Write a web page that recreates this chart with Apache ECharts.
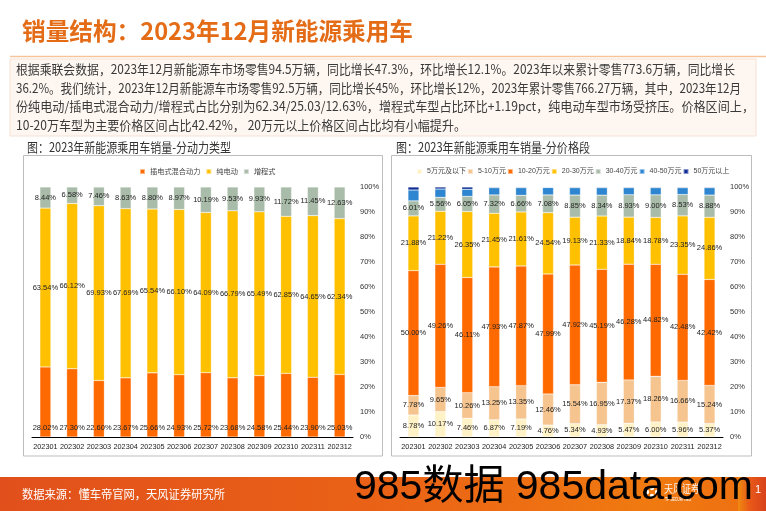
<!DOCTYPE html>
<html><head><meta charset="utf-8">
<script src="https://cdn.jsdelivr.net/npm/echarts@6/dist/echarts.min.js"></script>
<style>html,body{margin:0;padding:0;background:#fff}#c{width:766px;height:511px}</style>
</head><body><div id="c"></div>
<script>
// ---------- data ----------
const months = ['202301','202302','202303','202304','202305','202306','202307','202308','202309','202310','202311','202312'];
// 分动力类型 (%)
const phev = [28.02,27.30,22.60,23.67,25.66,24.93,25.72,23.68,24.58,25.44,23.90,25.03];
const bev  = [63.54,66.12,69.93,67.69,65.54,66.10,64.09,66.79,65.49,62.85,64.65,62.34];
const erev = [8.44,6.58,7.46,8.63,8.80,8.97,10.19,9.53,9.93,11.72,11.45,12.63];
const powerNames = ['插电式混合动力','纯电动','增程式'];
// 分价格段 (%)
const pLt5   = [8.78,10.17,7.46,6.87,7.19,4.76,5.34,4.93,5.47,6.00,5.96,5.37];
const p5_10  = [7.78,9.65,10.26,13.25,13.35,12.46,15.54,16.95,17.37,18.26,16.66,15.24];
const p10_20 = [50.00,49.26,46.11,47.93,47.87,47.99,47.92,45.19,46.28,44.82,42.48,42.42];
const p20_30 = [21.88,21.22,26.35,21.45,21.61,24.54,19.13,21.33,18.84,18.78,23.35,24.86];
const p30_40 = [6.01,5.56,6.05,7.32,6.66,7.08,8.85,8.34,8.93,9.00,8.53,8.88];
const p40_50 = [4.35,3.34,2.87,2.88,3.02,2.97,2.92,2.96,2.81,2.84,2.72,2.93];
const pGt50  = [1.20,0.80,0.90,0.30,0.30,0.20,0.30,0.30,0.30,0.30,0.30,0.30];
const priceNames = ['5万元及以下','5-10万元','10-20万元','20-30万元','30-40万元','40-50万元','50万元以上'];
const yTicks = {min:0, max:100, interval:10};

// ---------- texts ----------
const titleText = '销量结构：2023年12月新能源乘用车';
const bodyLines = [
 '根据乘联会数据，2023年12月新能源车市场零售94.5万辆，同比增长47.3%，环比增长12.1%。2023年以来累计零售773.6万辆，同比增长',
 '36.2%。我们统计，2023年12月新能源车市场零售92.5万辆，同比增长45%，环比增长12%，2023年累计零售766.27万辆，其中，2023年12月',
 '份纯电动/插电式混合动力/增程式占比分别为62.34/25.03/12.63%，增程式车型占比环比+1.19pct，纯电动车型市场受挤压。价格区间上，',
 '10-20万车型为主要价格区间占比42.42%， 20万元以上价格区间占比均有小幅提升。'
];
const cap1 = '图：2023年新能源乘用车销量-分动力类型';
const cap2 = '图：2023年新能源乘用车销量-分价格段';
const sourceText = '数据来源：懂车帝官网，天风证券研究所';

// ---------- helpers ----------
const mctx = document.createElement('canvas').getContext('2d');
function fitScale(text, font, target){ mctx.font = font; return target / mctx.measureText(text).width; }
function fitText(text, x, y, target, size, weight, color, family){
  const fam = family || '"Noto Sans CJK SC"';
  const font = (weight||'normal') + ' ' + size + 'px ' + fam;
  return {type:'text', x:x, y:y, scaleX: fitScale(text, font, target),
    style:{text:text, font:font, fill:color, verticalAlign:'middle'}};
}
const smallFam = '"Liberation Sans", "Noto Sans CJK SC", sans-serif';
const lblFont = {fontSize:7.5, color:'#222', fontFamily:smallFam};
const fmt = p => p.value.toFixed(2) + '%';

const chart = echarts.init(document.getElementById('c'), null, {renderer:'canvas'});

const bodyTargets = [719, 725, 738, 450];
const bodyY = [69, 88, 106, 125];
const graphics = [
  fitText(titleText, 22, 31, 391, 24, 'bold', '#E46C17'),
  {type:'line', shape:{x1:10,y1:56.5,x2:766,y2:56.5}, style:{stroke:'#F7C39A', lineWidth:1.5}},
  {type:'rect', shape:{x:10,y:59,width:746,height:77}, style:{fill:'#FEF7F1', stroke:'#F6E1D2', lineWidth:1}},
];
bodyLines.forEach((t,i)=>graphics.push(fitText(t, 16, bodyY[i], bodyTargets[i], 13, 'normal', '#3a3a3a')));
graphics.push(
  fitText(cap1, 27, 147, 204, 13, 'normal', '#333'),
  fitText(cap2, 396, 147, 194, 13, 'normal', '#333'),
  {type:'rect', shape:{x:23.5,y:155.5,width:359,height:300.5}, style:{fill:'none', stroke:'#BDBDBD', lineWidth:1}},
  {type:'rect', shape:{x:391.5,y:155.5,width:360,height:300.5}, style:{fill:'none', stroke:'#BDBDBD', lineWidth:1}},
  {type:'rect', shape:{x:0,y:477,width:766,height:34}, style:{fill:new echarts.graphic.LinearGradient(0,0,1,0,[
    {offset:0,color:'#E1501C'},{offset:0.5,color:'#EA6216'},{offset:0.85,color:'#F07A10'},{offset:1,color:'#EE6E12'}])}},
  {type:'rect', shape:{x:738,y:477,width:28,height:34}, style:{fill:new echarts.graphic.LinearGradient(0,0,1,0,[
    {offset:0,color:'#F08A10'},{offset:0.4,color:'#E85A18'},{offset:1,color:'#D9421C'}])}},
  fitText(sourceText, 22, 494, 203, 12, 'normal', '#ffffff'),
  {type:'circle', shape:{cx:652,cy:488,r:2.2}, style:{fill:'#fff'}},
  {type:'circle', shape:{cx:657,cy:492,r:2.2}, style:{fill:'#fff'}},
  {type:'circle', shape:{cx:652,cy:496,r:2.2}, style:{fill:'#fff'}},
  {type:'circle', shape:{cx:647,cy:492,r:2.2}, style:{fill:'#fff'}},
  fitText('天风证券', 664, 489, 36, 11, 'normal', 'rgba(255,255,255,0.9)'),
  fitText('TF SECURITIES', 665, 500, 26, 5, 'normal', '#ffffff', 'Liberation Sans'),
  {type:'text', x:755, y:490, style:{text:'1', font:'11px "Liberation Sans"', fill:'#fff', verticalAlign:'middle'}},
  {type:'text', x:354, y:488, z:100, style:{text:'985数据 985data.com', font:'41px "Liberation Sans", "Noto Sans CJK SC"', fill:'#000', verticalAlign:'middle'}}
);

function xAxis(gi){
  return {type:'category', gridIndex:gi, data:months,
    axisLine:{lineStyle:{color:'#000', width:1}},
    axisTick:{length:4, lineStyle:{color:'#000'}},
    axisLabel:{interval:0, fontSize:7.3, color:'#222', margin:6, fontFamily:smallFam}};
}
function yAxis(gi){
  return Object.assign({type:'value', gridIndex:gi, position:'right',
    axisLine:{show:false}, axisTick:{show:false}, splitLine:{show:false},
    axisLabel:{formatter:'{value}%', fontSize:7.5, color:'#333', margin:7, fontFamily:smallFam}}, yTicks);
}
function bar(name, data, gi, stack, color, lblPos){
  return {name:name, type:'bar', data:data, xAxisIndex:gi, yAxisIndex:gi, stack:stack, barWidth:11,
    itemStyle:{color:color, borderColor:'rgba(255,255,255,0.5)', borderWidth:0.5},
    label: lblPos ? Object.assign({show:true, position:lblPos, formatter:fmt, distance:5}, lblFont) : {show:false},
    emphasis:{disabled:true}, animation:false};
}

const option = {
  animation:false,
  graphic: graphics,
  legend:[
    {data:powerNames, left:134, top:163, width:300, itemWidth:5, itemHeight:5, itemGap:5, icon:'rect',
      textStyle:{fontSize:7.2, color:'#444', fontFamily:smallFam}, selectedMode:false},
    {data:priceNames, left:411, top:163, width:360, itemWidth:5, itemHeight:5, itemGap:1, icon:'rect',
      textStyle:{fontSize:7, color:'#444', fontFamily:smallFam}, selectedMode:false}
  ],
  grid:[
    {left:32, top:187, width:321, height:250},
    {left:400, top:187, width:323, height:250}
  ],
  xAxis:[xAxis(0), xAxis(1)],
  yAxis:[yAxis(0), yAxis(1)],
  series:[
    bar(powerNames[0], phev, 0, 'a', '#FF6A00', 'insideBottom'),
    bar(powerNames[1], bev, 0, 'a', '#FFC000', 'inside'),
    bar(powerNames[2], erev, 0, 'a', '#A9BBA9', 'inside'),
    bar(priceNames[0], pLt5, 1, 'b', '#FFF2C6', 'inside'),
    bar(priceNames[1], p5_10, 1, 'b', '#F5C48F', 'inside'),
    bar(priceNames[2], p10_20, 1, 'b', '#FF6A00', 'inside'),
    bar(priceNames[3], p20_30, 1, 'b', '#FFC000', 'inside'),
    bar(priceNames[4], p30_40, 1, 'b', '#A9BBA9', 'inside'),
    bar(priceNames[5], p40_50, 1, 'b', '#2E86D1', null),
    bar(priceNames[6], pGt50, 1, 'b', '#0D2C94', null)
  ]
};
chart.setOption(option);
</script></body></html>
